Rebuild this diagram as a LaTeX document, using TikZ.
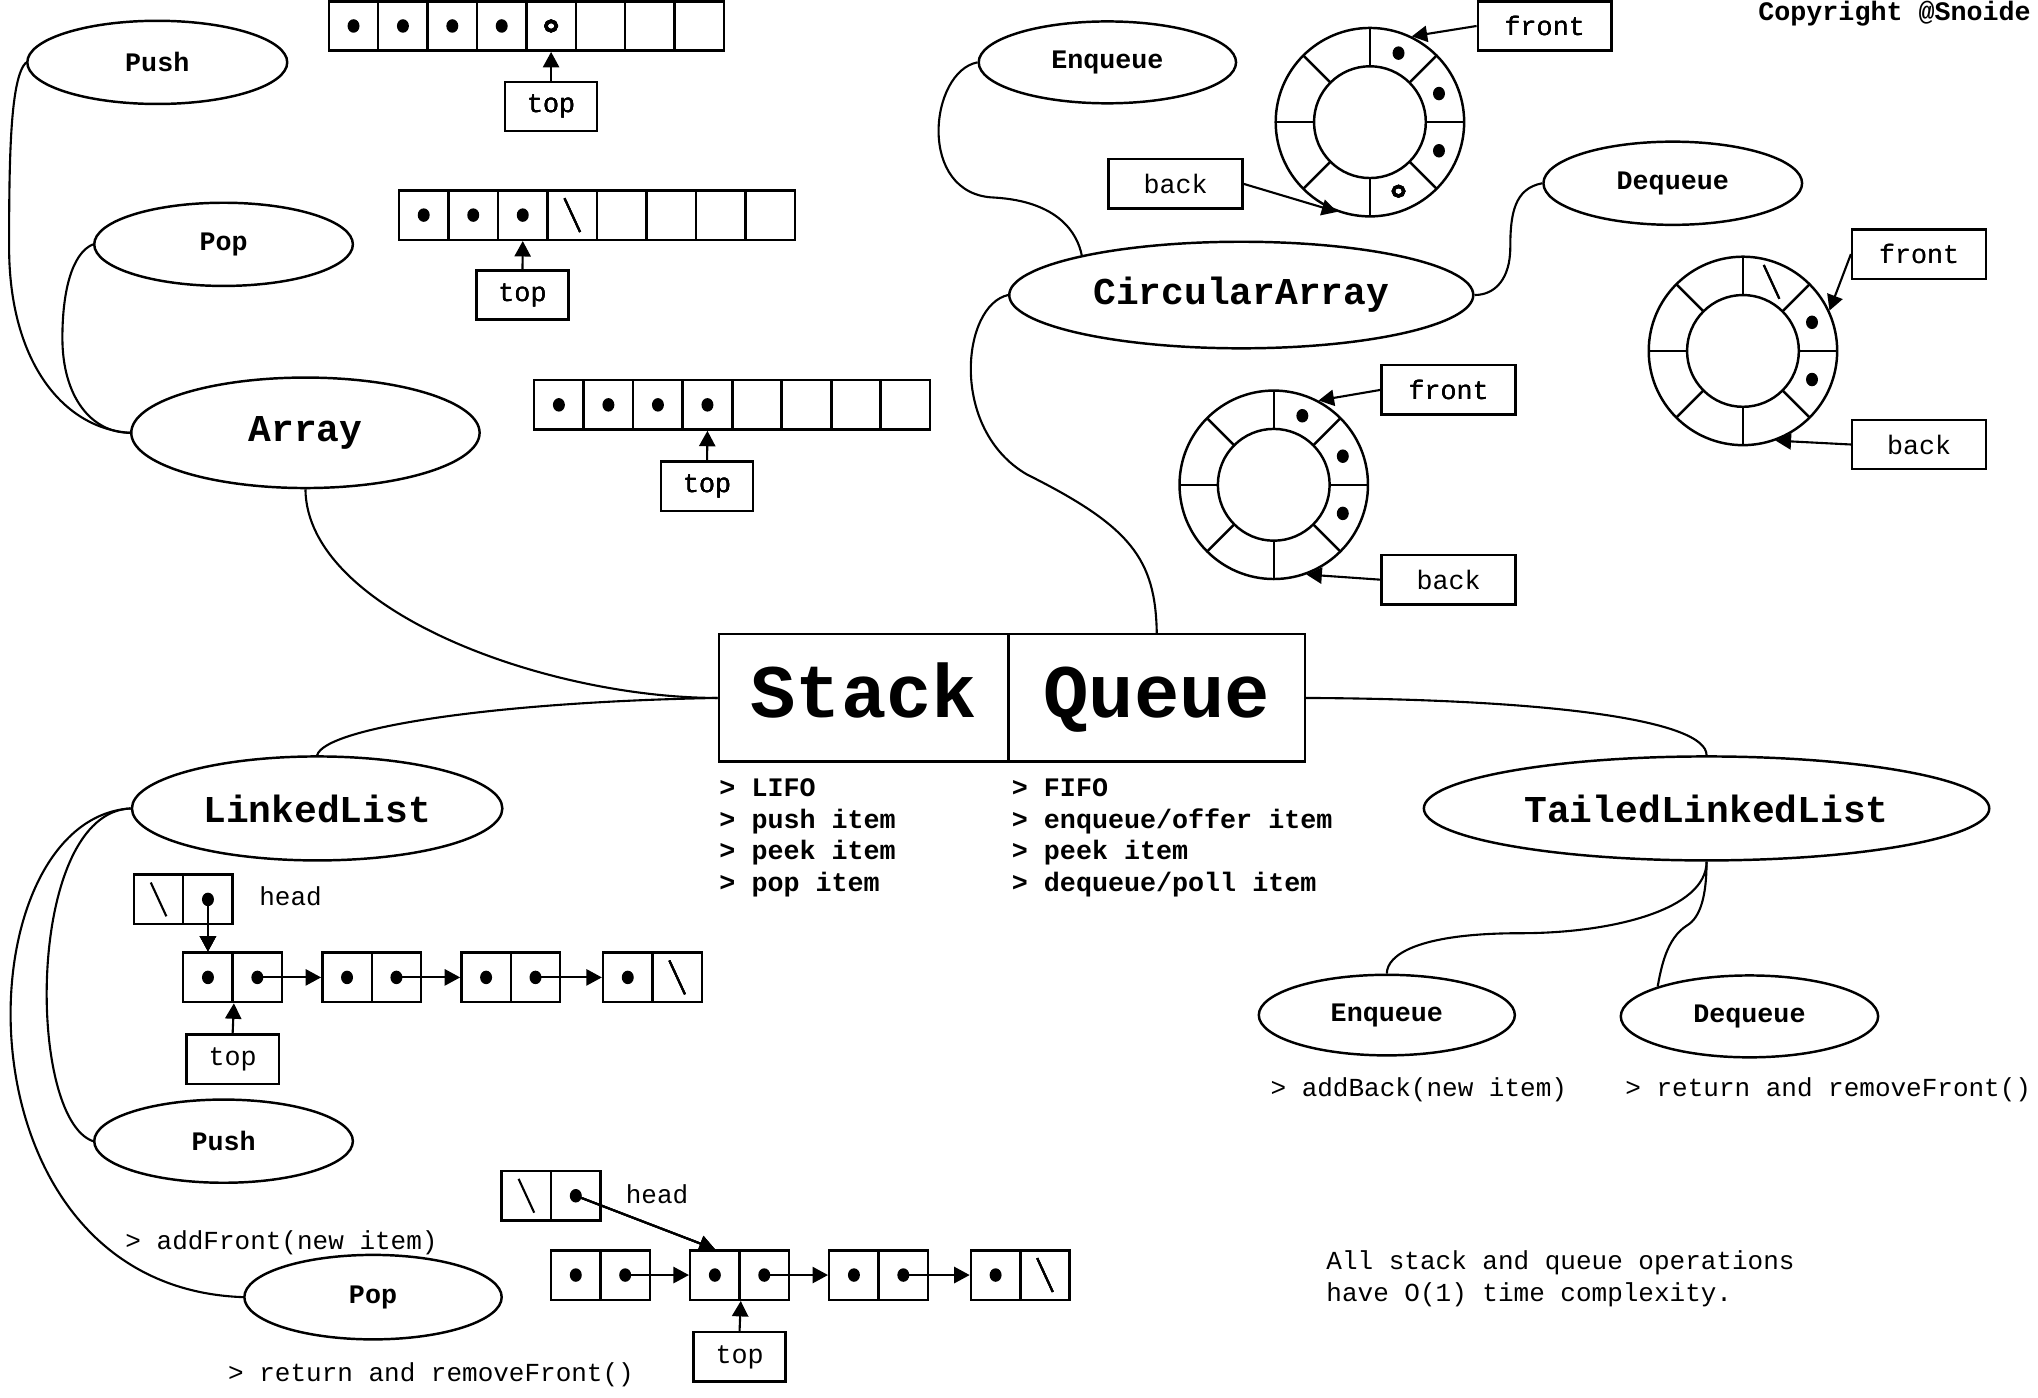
\documentclass[tikz,border=0pt]{standalone}
\usepackage{fontspec}
\setmonofont{Liberation Mono}
\usetikzlibrary{shapes.geometric,arrows.meta,calc}

% marks drawn inside a slot
\newcommand{\fullslot}[1]{\fill (#1) ellipse [x radius=4.6, y radius=5.2];}
\newcommand{\newslot}[1]{\draw[line width=0.95pt] (#1) ellipse [x radius=4, y radius=3.7];}
\newcommand{\nullslot}[1]{\draw[line width=0.6pt] (#1) ++(-6,-13) -- ++(12,26);}
% ring buffer: outer circle is a node, inner circle and spokes drawn on top
\newcommand{\ringarray}[3]{%
  \node[ringbox] (#1) at (#2,#3) {};
  \draw[line width=0.7pt] (#1.center) circle [radius=43];
  \foreach \a in {0,45,...,315}
    \draw[line width=0.7pt] ($(#1.center)+(\a:43)$) -- ($(#1.center)+(\a:72.5)$);
}

\tikzset{
  opnode/.style={ellipse, draw, line width=0.7pt, inner sep=0pt,
    font=\ttfamily\bfseries\fontsize{7.6}{9}\selectfont},
  implnode/.style={opnode, font=\ttfamily\bfseries\fontsize{10.8}{13}\selectfont},
  headbox/.style={draw, line width=0.7pt, inner sep=0pt, minimum height=1.274cm,
    text height=15pt, text depth=4pt,
    font=\ttfamily\bfseries\fontsize{21.5}{26}\selectfont},
  cellbox/.style={draw, line width=0.7pt, inner sep=0pt,
    minimum width=0.494cm, minimum height=0.494cm},
  ptrbox/.style={draw, line width=0.7pt, inner sep=0pt, minimum height=0.494cm,
    minimum width=0.923cm, font=\ttfamily\fontsize{7.6}{9}\selectfont},
  endbox/.style={ptrbox, minimum width=1.339cm},
  ringbox/.style={circle, draw, line width=0.7pt, inner sep=0pt, minimum size=1.885cm},
  notetext/.style={anchor=base west, inner sep=0pt, font=\ttfamily\fontsize{7.4}{9}\selectfont},
  boldnote/.style={notetext, font=\ttfamily\bfseries\fontsize{7.6}{9}\selectfont},
  branch/.style={line width=0.6pt},
  pointer/.style={line width=0.6pt, -{Triangle[length=4.4pt,width=4.6pt]}},
}

\begin{document}
\begin{tikzpicture}[x=0.013cm, y=-0.013cm]
\useasboundingbox (0,0) rectangle (1568,1075);

\node[boldnote, anchor=base east] (copy) at (1563,16) {Copyright @Snoide};

% the two structures
\node[headbox, minimum width=2.899cm] (stack) at (664.5,537) {Stack};
\node[headbox, minimum width=2.964cm] (queue) at (890,537) {Queue};
\foreach \t [count=\i from 0] in {LIFO, push item, peek item, pop item}
  \node[boldnote] (slist\i) at (553,{613+24.3*\i}) {> \t};
\foreach \t [count=\i from 0] in {FIFO, enqueue/offer item, peek item, dequeue/poll item}
  \node[boldnote] (qlist\i) at (778,{613+24.3*\i}) {> \t};

% stack with array
\node[implnode, minimum width=3.484cm, minimum height=1.105cm] (array) at (235,333) {Array};
\node[opnode, minimum width=2.6cm, minimum height=0.832cm] (push1) at (121,48) {Push};
\node[opnode, minimum width=2.587cm, minimum height=0.832cm] (pop1) at (172,188) {Pop};
\draw[branch] (push1.west) .. controls (8,60) and (7,120) .. (7,190)
  .. controls (7,280) and (50,330) .. (array.west);
\draw[branch] (pop1.west) .. controls (55,195) and (48,225) .. (48,260)
  .. controls (48,305) and (70,333) .. (array.west);
\draw[branch] (array.south) .. controls (236,470) and (420,537) .. (stack.west);

\foreach \i in {0,...,7} \node[cellbox] (a1-\i) at ({272+38*\i},20) {};
\foreach \i in {0,...,3} \fullslot{a1-\i}
\newslot{a1-4}
\node[ptrbox] (top1) at (424,82) {top};
\draw[pointer] (top1.north) -- (a1-4.south);

\foreach \i in {0,...,7} \node[cellbox] (a2-\i) at ({326+38.1*\i},165.5) {};
\foreach \i in {0,...,2} \fullslot{a2-\i}
\nullslot{a2-3}
\node[ptrbox] (top2) at (402,227) {top};
\draw[pointer] (top2.north) -- (a2-2.south);

\foreach \i in {0,...,7} \node[cellbox] (a3-\i) at ({430+38.1*\i},311.5) {};
\foreach \i in {0,...,3} \fullslot{a3-\i}
\node[ptrbox] (top3) at (544,374) {top};
\draw[pointer] (top3.north) -- (a3-3.south);

% stack with linked list
\node[implnode, minimum width=3.705cm, minimum height=1.04cm] (llist) at (244,622) {LinkedList};
\node[opnode, minimum width=2.587cm, minimum height=0.832cm] (push2) at (172,878) {Push};
\node[opnode, minimum width=2.574cm, minimum height=0.845cm] (pop2) at (287,998) {Pop};
\draw[branch] (stack.west) .. controls (380,540) and (250,560) .. (llist.north);
\draw[branch] (llist.west) .. controls (20,625) and (20,860) .. (push2.west);
\draw[branch] (llist.west) .. controls (-30,630) and (-40,990) .. (pop2.west);
\node[notetext] (addf) at (96,961) {> addFront(new item)};
\node[notetext] (remf1) at (175,1063) {> return and removeFront()};

\node[cellbox] (h1l) at (122,692) {};
\node[cellbox] (h1r) at (160,692) {};
\nullslot{h1l} \fullslot{h1r}
\node[notetext] (head1) at (199,697) {head};
\foreach \n/\x in {1/160, 2/267, 3/374, 4/483} {
  \node[cellbox] (p\n l) at (\x,752) {};
  \node[cellbox] (p\n r) at (\x+38,752) {};
  \fullslot{p\n l}
}
\foreach \n in {1,2,3} \fullslot{p\n r}
\nullslot{p4r}
\draw[pointer] (h1r.center) -- (p1l.north);
\draw[pointer] (p1r.center) -- (p2l.west);
\draw[pointer] (p2r.center) -- (p3l.west);
\draw[pointer] (p3r.center) -- (p4l.west);
\node[ptrbox] (top4) at (179,815) {top};
\draw[pointer] (top4.north) -- (p1l.south east);

\node[cellbox] (h2l) at (405,920) {};
\node[cellbox] (h2r) at (443,920) {};
\nullslot{h2l} \fullslot{h2r}
\node[notetext] (head2) at (481,926) {head};
\foreach \n/\x in {1/443, 2/550, 3/657, 4/766} {
  \node[cellbox] (q\n l) at (\x,981) {};
  \node[cellbox] (q\n r) at (\x+38,981) {};
  \fullslot{q\n l}
}
\foreach \n in {1,2,3} \fullslot{q\n r}
\nullslot{q4r}
\draw[pointer] (h2r.center) -- (q2l.north);
\draw[pointer] (q1r.center) -- (q2l.west);
\draw[pointer] (q2r.center) -- (q3l.west);
\draw[pointer] (q3r.center) -- (q4l.west);
\node[ptrbox] (top5) at (569,1044) {top};
\draw[pointer] (top5.north) -- (q2l.south east);

% queue with circular array
\node[implnode, minimum width=4.641cm, minimum height=1.066cm] (circ) at (955,227) {CircularArray};
\node[opnode, minimum width=2.574cm, minimum height=0.819cm] (enq1) at (852,48) {Enqueue};
\node[opnode, minimum width=2.587cm, minimum height=0.832cm] (deq1) at (1287,141) {Dequeue};
\draw[branch] (enq1.west) .. controls (715,55) and (705,150) .. (765,152)
  .. controls (815,155) and (829,180) .. (circ.166);
\draw[branch] (deq1.west) .. controls (1165,145) and (1162,165) .. (1162,190)
  .. controls (1162,215) and (1150,227) .. (circ.east);
\draw[branch] (circ.west) .. controls (740,235) and (730,330) .. (790,365)
  .. controls (870,405) and (889,430) .. (queue.north);

\ringarray{ringA}{1054}{94}
\foreach \a in {67.5,22.5,-22.5} \fullslot{$(ringA)+(-\a:57.5)$}
\newslot{$(ringA)+(67.5:57.5)$}
\node[endbox] (frontA) at (1188.5,20) {front};
\node[endbox] (backA) at (904.5,141.5) {back};
\draw[pointer] (frontA.west) -- (ringA.64);
\draw[pointer] (backA.east) -- (ringA.-110);

\ringarray{ringB}{980}{373}
\foreach \a in {67.5,22.5,-22.5} \fullslot{$(ringB)+(-\a:57.5)$}
\node[endbox] (frontB) at (1114.5,300) {front};
\node[endbox] (backB) at (1114.5,446) {back};
\draw[pointer] (frontB.west) -- (ringB.62);
\draw[pointer] (backB.west) -- (ringB.-70);

\ringarray{ringC}{1341}{270}
\foreach \a in {22.5,-22.5} \fullslot{$(ringC)+(-\a:57.5)$}
\nullslot{$(ringC)+(-67.5:57.5)$}
\node[endbox] (frontC) at (1476.5,195.5) {front};
\node[endbox] (backC) at (1476.5,342) {back};
\draw[pointer] (frontC.west) -- (ringC.25);
\draw[pointer] (backC.west) -- (ringC.-70);

% queue with tailed linked list
\node[implnode, minimum width=5.655cm, minimum height=1.04cm] (tll) at (1313,622) {TailedLinkedList};
\node[opnode, minimum width=2.561cm, minimum height=0.806cm] (enq2) at (1067,781) {Enqueue};
\node[opnode, minimum width=2.574cm, minimum height=0.819cm] (deq2) at (1346,782) {Dequeue};
\draw[branch] (queue.east) .. controls (1200,538) and (1313,555) .. (tll.north);
\draw[branch] (tll.south) .. controls (1313,700) and (1240,718) .. (1170,718)
  .. controls (1090,718) and (1067,735) .. (enq2.north);
\draw[branch] (tll.south) .. controls (1313,690) and (1308,706) .. (1298,712)
  .. controls (1282,722) and (1278,745) .. (deq2.162);
\node[notetext] (addb) at (977,844) {> addBack(new item)};
\node[notetext] (remf2) at (1250,844) {> return and removeFront()};

\node[notetext] (cost1) at (1020,977) {All stack and queue operations};
\node[notetext] (cost2) at (1020,1001) {have O(1) time complexity.};
\end{tikzpicture}
\end{document}
